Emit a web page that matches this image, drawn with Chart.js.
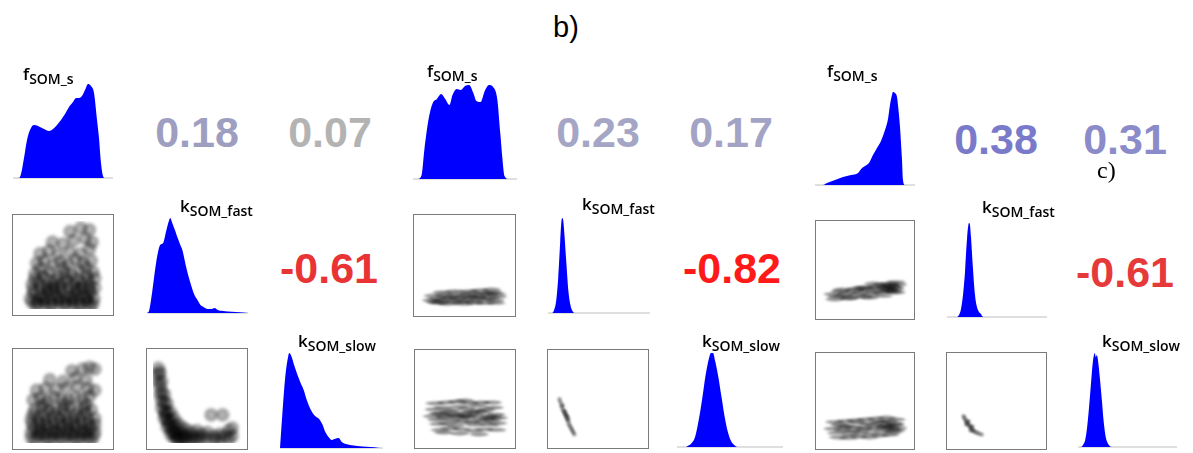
<!DOCTYPE html>
<html>
<head>
<meta charset="utf-8">
<script src="https://cdn.jsdelivr.net/npm/chart.js@4.4.0/dist/chart.umd.min.js"></script>
<style>
  body { margin: 0; background: #fff; }
  #page { position: relative; width: 1193px; height: 453px; overflow: hidden; font-family: "Liberation Sans", Arial, sans-serif; }
  .cell { position: absolute; }
  .box { position: absolute; box-sizing: border-box; border: 1px solid #7a7a7a; background: #fff; }
  .num { position: absolute; font-weight: bold; font-size: 43px; line-height: 1; transform: translate(-50%, -50%); white-space: nowrap; }
  .lbl { position: absolute; font-family: "Open Sans", sans-serif; font-weight: 600; font-size: 17px; line-height: 1; white-space: nowrap; color: #000; }
  .lbl span { font-size: 14px; position: relative; top: 4px; }
</style>
</head>
<body>
<div id="page"></div>
<script>
// variable names (main letter + subscript)
const varMain = ['f', 'k', 'k'];
const varSub = ['SOM_s', 'SOM_fast', 'SOM_slow'];

// correlation coefficients, upper triangle: [f-kfast, f-kslow, kfast-kslow]
const corrA = [0.18, 0.07, -0.61];
const corrB = [0.23, 0.17, -0.82];
const corrC = [0.38, 0.31, -0.61];

// marginal densities, [position within panel 0-100, relative density]
const aDensF = [[0,0],[6,0],[8,4],[11,20],[14,38],[17,48],[21,53],[25,52],[29,50],[33,48],[36,47],[40,49],[44,53],[48,58],[52,64],[56,71],[60,76],[63,80],[66,80],[69,82],[72,88],[75,94],[78,92],[81,85],[84,58],[86,40],[88,15],[90,2],[92,0],[100,0]];
const aDensKF = [[0,0],[2,2],[5,20],[9,50],[13,68],[16,70],[19,82],[22,93],[23,95],[25,90],[28,82],[30,76],[33,68],[35,63],[39,45],[43,30],[47,18],[50,13],[53,8],[56,6],[60,4],[64,4],[67,5],[70,3],[75,2],[80,1.5],[88,1],[95,0.5],[100,0]];
const aDensKS = [[0,0],[2,30],[5,70],[8,92],[9,95],[11,92],[14,82],[17,73],[20,65],[23,58],[26,48],[30,38],[34,32],[38,29],[41,24],[44,16],[48,10],[50,8],[53,9],[57,10],[60,6],[64,4],[68,3],[75,2],[80,1.5],[88,1],[95,0.3],[100,0]];
const bDensF = [[0,0],[4,0],[8,3],[11,30],[15,60],[19,76],[23,80],[27,85],[31,80],[35,74],[38,84],[42,90],[46,89],[50,93],[54,94],[58,86],[61,78],[65,77],[69,88],[73,94],[77,92],[81,80],[84,45],[86,20],[88,3],[92,0],[100,0]];
const bDensKF = [[0,0],[4,0],[6,3],[8,12],[10,35],[12,72],[13,90],[14,95],[15,92],[16,80],[18,50],[20,22],[22,8],[24,2],[26,0],[100,0]];
const bDensKS = [[0,0],[8,0],[10,1],[13,3],[17,10],[21,30],[24,50],[27,72],[30,88],[32,94],[34,94],[36,86],[39,70],[42,50],[45,30],[48,15],[51,6],[54,2],[57,0],[100,0]];
const cDensF = [[0,0],[8,0],[12,2],[20,5],[28,8],[36,10],[43,12],[47,17],[50,19],[54,22],[58,30],[62,37],[66,44],[70,55],[73,66],[75,80],[77,90],[78,93],[80,92],[82,88],[84,70],[85,58],[87,25],[88,5],[90,0],[100,0]];
const cDensKF = [[0,0],[10,0],[12,2],[14,8],[16,22],[18,45],[20,78],[22,94],[23,92],[24,80],[26,48],[28,22],[30,10],[32,5],[34,3],[35,1],[37,0],[100,0]];
const cDensKS = [[0,0],[3,0],[5,2],[7,6],[9,18],[11,38],[13,62],[15,85],[17,94],[18,90],[19,92],[20,88],[22,70],[24,48],[26,25],[28,10],[30,4],[32,1],[34,0],[100,0]];

// pairwise samples (x, y within panel 0-100)
const aFK = [[15,8],[22,6],[30,7],[38,5],[46,8],[54,6],[62,7],[70,5],[78,8],[84,6],[19,4],[35,3],[51,4],[67,3],[81,3],
  [13,12],[21,10],[29,13],[37,10],[45,13],[53,10],[61,13],[69,10],[77,13],[85,12],
  [17,18],[25,15],[33,19],[41,16],[49,20],[57,15],[65,18],[73,16],[81,19],[28,11],[44,12],[60,11],[76,12],
  [16,22],[24,24],[32,22],[40,24],[48,23],[56,24],[64,22],[72,24],[80,23],[86,24],
  [15,28],[23,30],[31,26],[39,29],[47,27],[55,31],[63,28],[71,30],[80,27],[36,23],[68,23],
  [18,34],[30,35],[42,33],[54,35],[66,34],[78,33],[86,35],
  [18,40],[27,38],[35,42],[44,37],[52,41],[60,39],[68,43],[77,38],[84,42],
  [20,52],[29,55],[38,50],[47,54],[56,51],[64,56],[73,52],[82,55],[24,46],[50,47],[76,47],
  [24,63],[34,66],[44,62],[58,65],[70,63],[80,68],
  [38,76],[50,74],[62,78],[75,80],[83,76],[58,88],[70,92],[80,90]];
const aFS = [[14,6],[22,8],[30,5],[38,7],[46,6],[54,8],[62,5],[70,7],[78,6],[85,8],[18,3],[34,3],[50,3],[66,3],[82,3],
  [14,12],[22,13],[30,11],[38,13],[46,12],[54,13],[62,11],[70,13],[78,12],[86,13],
  [17,17],[25,16],[33,18],[41,15],[49,19],[57,16],[65,18],[73,15],[81,17],[26,11],[42,11],[58,11],[74,11],
  [15,22],[23,23],[31,21],[39,23],[47,22],[55,23],[63,21],[71,23],[79,22],[86,21],
  [14,27],[22,28],[30,26],[38,29],[46,27],[54,28],[62,26],[70,29],[78,27],[86,28],
  [16,33],[28,32],[40,34],[52,33],[64,32],[76,34],
  [18,38],[26,40],[34,37],[42,39],[50,38],[58,41],[66,37],[74,40],[82,38],
  [16,49],[24,51],[32,48],[40,52],[48,50],[56,49],[64,52],[72,50],[80,53],[28,44],[52,44],[76,44],
  [20,60],[30,62],[42,61],[54,63],[66,64],[78,62],[86,60],
  [35,72],[50,70],[64,74],[76,72],[60,82],[72,84],[80,86],[86,84]];
const aKK = [[6,85],[6,78],[6,70],[8,80],[8,65],[8,55],[10,70],[10,58],[10,48],[10,40],
  [13,55],[13,45],[13,36],[13,28],[16,45],[16,35],[16,26],[16,18],
  [20,35],[20,26],[20,18],[20,10],[24,28],[24,20],[24,12],[24,6],
  [28,22],[28,15],[28,8],[28,4],[33,18],[33,11],[33,5],[38,15],[38,9],[38,4],
  [44,12],[44,7],[44,3],[50,14],[50,8],[50,4],[56,10],[56,5],[62,12],[62,6],
  [66,32],[70,8],[70,4],[76,10],[76,5],[79,32],[82,8],[86,5],[86,14],[90,17],[90,8],
  [18,22],[22,14],[26,10],[30,6],[14,32],[36,7]];
const bFK = [[13,11],[19,13],[24,10],[29,14],[33,12],[38,9],[43,13],[47,15],[51,11],[56,14],[60,10],[65,13],[69,16],[74,12],[79,14],[84,11],[87,15],
  [15,16],[21,8],[27,17],[35,15],[41,18],[45,9],[53,17],[58,19],[63,15],[71,19],[77,18],[82,20],[86,18],
  [17,9],[31,7],[49,7],[62,8],[73,8],[85,8],[39,21],[55,21],[67,22],[80,23],[25,20]];
const bFS = [[13,30],[18,26],[23,33],[27,28],[31,35],[36,25],[40,31],[45,27],[49,34],[53,29],[58,24],[62,32],[67,27],[71,35],[76,30],[80,25],[85,32],[88,28],
  [15,38],[20,21],[25,40],[30,22],[34,37],[39,19],[43,41],[48,23],[52,39],[57,35],[61,20],[65,42],[69,23],[74,38],[78,20],[83,40],[87,22],
  [16,45],[22,14],[29,46],[33,16],[41,47],[46,15],[55,45],[60,13],[68,46],[72,15],[81,46],[86,14],
  [19,33],[37,32],[55,31],[64,36],[82,29],[26,11],[44,10],[66,9],[50,48],[28,30],[47,30],[75,27]];
const bKK = [[6,50],[7,47],[8,44],[9,41],[10,38],[11,36],[12,33],[13,31],[14,28],[15,26],[16,24],[17,21],[18,19],[19,17],[20,15],[21,13],[22,11],[23,9],
  [10,42],[12,36],[14,31],[16,27],[13,34],[15,30]];
const cFK = [[13,22],[17,19],[21,25],[25,20],[29,23],[33,18],[37,26],[41,21],[45,24],[49,19],[53,27],[57,22],[61,25],[65,29],[69,24],[73,30],[77,26],[81,31],[85,28],[88,33],
  [15,16],[23,27],[31,17],[39,28],[47,29],[55,18],[63,31],[71,20],[79,34],[86,24],
  [75,28],[80,27],[84,30],[82,25],[78,32],[86,36],[70,33],[60,34],[50,30]];
const cFS = [[13,17],[17,12],[21,22],[25,15],[29,20],[33,10],[37,18],[41,24],[45,13],[49,19],[53,23],[57,11],[61,17],[65,25],[69,14],[73,20],[77,26],[81,16],[85,22],[88,18],
  [15,25],[19,7],[27,26],[31,6],[39,27],[43,8],[51,28],[55,7],[63,29],[67,9],[75,30],[79,10],[86,28],
  [72,18],[76,21],[80,19],[84,23],[82,13],[86,15],[70,25],[60,21],[48,16],[35,14],[24,19]];
const cKK = [[12,32],[13,30],[14,28],[15,26],[16,25],[17,23],[18,22],[19,20],[20,19],[21,18],[22,16],[23,15],[24,14],[26,13],[28,12],[30,11],[33,10],
  [15,22],[18,26],[20,15],[22,20]];

const page = document.getElementById('page');

function addDiv(cls, style, html) {
  const d = document.createElement('div');
  d.className = cls;
  Object.assign(d.style, style);
  if (html) d.innerHTML = html;
  page.appendChild(d);
  return d;
}

function addCanvas(parent, w, h) {
  const c = document.createElement('canvas');
  c.width = w; c.height = h;
  c.style.display = 'block';
  parent.appendChild(c);
  return c;
}

// soft blob sprite used as point style
function makeSprite(w, h, alpha, centre) {
  const c = document.createElement('canvas');
  c.width = w; c.height = h;
  const g = c.getContext('2d');
  g.translate(w / 2, h / 2);
  g.scale(w / 2, h / 2);
  const grd = g.createRadialGradient(0, 0, 0, 0, 0, 1);
  grd.addColorStop(0, `rgba(0,0,0,${alpha * centre})`);
  grd.addColorStop(0.65, `rgba(0,0,0,${alpha})`);
  grd.addColorStop(1, 'rgba(0,0,0,0)');
  g.fillStyle = grd;
  g.beginPath();
  g.arc(0, 0, 1, 0, Math.PI * 2);
  g.fill();
  return c;
}
const sprites = {
  blob: makeSprite(16, 16, 0.38, 0.7),
  streak: makeSprite(22, 5, 0.4, 1),
  dot: makeSprite(5, 5, 0.4, 1)
};

const baseline = {
  id: 'baseline',
  beforeDatasetsDraw(chart) {
    const ctx = chart.ctx, y = chart.scales.y.getPixelForValue(0);
    ctx.save();
    ctx.strokeStyle = '#d4d4d4';
    ctx.lineWidth = 1.5;
    ctx.beginPath();
    ctx.moveTo(chart.chartArea.left, y);
    ctx.lineTo(chart.chartArea.right, y);
    ctx.stroke();
    ctx.restore();
  }
};

const blur = {
  id: 'blur',
  beforeDatasetsDraw(chart) { chart.ctx.save(); chart.ctx.filter = 'blur(' + (chart.options.blurPx || 1) + 'px)'; },
  afterDatasetsDraw(chart) { chart.ctx.restore(); }
};

const hidden = { display: false, min: 0, max: 100 };
const baseOpts = {
  responsive: false,
  animation: false,
  layout: { padding: 0 },
  plugins: { legend: { display: false }, tooltip: { enabled: false } },
  events: []
};

function density(pts, left, base, w) {
  const d = addDiv('cell', { left: left + 'px', top: (base - 100) + 'px' });
  new Chart(addCanvas(d, w, 103), {
    type: 'line',
    data: {
      datasets: [{
        data: pts.map(p => ({ x: p[0], y: p[1] })),
        fill: 'origin',
        backgroundColor: '#0000ff',
        borderColor: '#0000ff',
        borderWidth: 0,
        pointRadius: 0,
        cubicInterpolationMode: 'monotone'
      }]
    },
    options: Object.assign({}, baseOpts, {
      scales: { x: { type: 'linear', display: false, min: 0, max: 100 }, y: { display: false, min: -3, max: 100 } }
    }),
    plugins: [baseline]
  });
}

function scatter(pts, left, top, w, h, sprite, blurPx) {
  const d = addDiv('box', { left: left + 'px', top: top + 'px', width: w + 'px', height: h + 'px' });
  new Chart(addCanvas(d, w - 2, h - 2), {
    type: 'scatter',
    data: {
      datasets: [{
        data: pts.map(p => ({ x: p[0], y: p[1] })),
        pointStyle: sprites[sprite],
        pointRadius: 5
      }]
    },
    options: Object.assign({}, baseOpts, { blurPx: blurPx, scales: { x: hidden, y: hidden } }),
    plugins: [blur]
  });
}

function corr(v, cx, cy, color) {
  addDiv('num', { left: cx + 'px', top: cy + 'px', color: color }, v.toFixed(2));
}

function label(i, left, base) {
  addDiv('lbl', { left: left + 'px', top: (base - 15) + 'px' }, varMain[i] + '<span>' + varSub[i] + '</span>');
}

// panel a
density(aDensF, 13, 178, 100);
density(aDensKF, 147, 313, 101);
density(aDensKS, 280, 448, 103);
scatter(aFK, 12, 214, 102, 102, 'blob', 1.6);
scatter(aFS, 12, 348, 102, 102, 'blob', 1.6);
scatter(aKK, 146, 348, 102, 102, 'blob', 1.6);
corr(corrA[0], 197, 132, '#9e9ec1');
corr(corrA[1], 330, 132, '#b3b3b3');
corr(corrA[2], 329, 268, '#e83434');
label(0, 23, 80); label(1, 180, 212); label(2, 298, 347);

// panel b
density(bDensF, 413, 179, 104);
density(bDensKF, 548, 313, 102);
density(bDensKS, 677, 447, 106);
scatter(bFK, 413, 214, 103, 103, 'streak', 1.2);
scatter(bFS, 414, 349, 102, 100, 'streak', 1.2);
scatter(bKK, 547, 349, 102, 100, 'dot', 1);
corr(corrB[0], 598, 132, '#a5a5c5');
corr(corrB[1], 731, 132, '#a3a3c6');
corr(corrB[2], 732, 268, '#ff1a1a');
label(0, 427, 77); label(1, 582, 210); label(2, 702, 347);

// panel c
density(cDensF, 815, 185, 100);
density(cDensKF, 947, 317, 100);
density(cDensKS, 1078, 447, 99);
scatter(cFK, 815, 220, 100, 100, 'streak', 1.2);
scatter(cFS, 815, 352, 100, 98, 'streak', 1.2);
scatter(cKK, 946, 352, 101, 98, 'dot', 1);
corr(corrC[0], 996, 139, '#7a7acb');
corr(corrC[1], 1125, 139, '#8b8bc9');
corr(corrC[2], 1125, 272, '#e63a3a');
label(0, 827, 77); label(1, 982, 213); label(2, 1102, 347);

// panel tags
addDiv('cell', { left: '553px', top: '13px', fontSize: '29px', lineHeight: '1' }, 'b)');
addDiv('cell', { left: '1097px', top: '158px', fontSize: '24px', lineHeight: '1', fontFamily: '"Liberation Serif", serif' }, 'c)');
</script>
</body>
</html>
